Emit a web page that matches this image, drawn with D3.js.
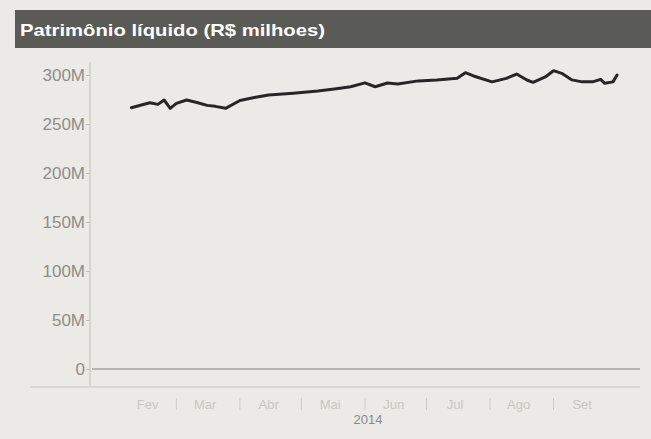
<!DOCTYPE html>
<html><head><meta charset="utf-8">
<script src="https://cdn.jsdelivr.net/npm/d3@7"></script>
<style>
html,body{margin:0;padding:0;background:#ebeae6;}
svg{display:block;}
</style></head>
<body>
<svg id="c" width="651" height="439"></svg>
<script>
const title = "Patrimônio líquido (R$ milhoes)";
const dates = ["2014-02-07","2014-02-16","2014-02-20","2014-02-23","2014-02-26","2014-03-01","2014-03-06","2014-03-11","2014-03-16","2014-03-20","2014-03-25","2014-04-01","2014-04-08","2014-04-15","2014-04-27","2014-05-09","2014-05-18","2014-05-25","2014-06-01","2014-06-06","2014-06-12","2014-06-17","2014-06-27","2014-07-06","2014-07-16","2014-07-20","2014-07-24","2014-08-02","2014-08-09","2014-08-14","2014-08-19","2014-08-22","2014-08-28","2014-09-01","2014-09-05","2014-09-10","2014-09-15","2014-09-20","2014-09-24","2014-09-26","2014-09-30","2014-10-02"];
const values = [266.6,271.7,270,274.5,266,271,274.5,272,269,268,266,274,277,279.6,281.5,283.7,286,288,292,288,291.8,290.8,294,295,296.6,302.4,299,293,296.6,301,294.9,292.5,298,304.4,301.7,295,293,293,295.6,291.5,293,300];
const yTicks = [0,50,100,150,200,250,300];
const monthLabels = ["Fev","Mar","Abr","Mai","Jun","Jul","Ago","Set"];
const yearLabel = "2014";

const svg = d3.select("#c");
const parse = d3.timeParse("%Y-%m-%d");
const data = dates.map((d,i)=>({date:parse(d), v:values[i]}));

const x = d3.scaleTime().domain([new Date(2014,1,1), new Date(2014,9,1)]).range([119,615]);
const y = d3.scaleLinear().domain([0,300]).range([369,75]);

// title bar
svg.append("rect").attr("x",15).attr("y",10).attr("width",636).attr("height",38).attr("fill","#5a5a57");
svg.append("text").attr("x",20).attr("y",36).text(title)
  .attr("fill","#ffffff").attr("font-family","Liberation Sans, Arial, sans-serif")
  .attr("font-weight","bold").attr("font-size",17).attr("textLength",305).attr("lengthAdjust","spacingAndGlyphs");

// bottom x line
svg.append("line").attr("x1",30).attr("x2",640).attr("y1",387).attr("y2",387).attr("stroke","#d2d1cc").attr("stroke-width",1.5);

// zero gridline
svg.append("line").attr("x1",92).attr("x2",640).attr("y1",y(0)).attr("y2",y(0)).attr("stroke","#b4b4af").attr("stroke-width",2);

// y axis
const ya = svg.append("g").attr("transform","translate(90,0)")
  .call(d3.axisLeft(y).tickValues(yTicks).tickSize(4).tickFormat(d=>d===0?"0":d+"M"));
ya.select(".domain").remove();
ya.selectAll(".tick line").attr("stroke","#bdbdb8");
ya.selectAll("text").attr("fill","#8e8e8a").attr("font-family","Liberation Sans, Arial, sans-serif").attr("font-size",17).attr("dx",2);
svg.append("line").attr("x1",90).attr("x2",90).attr("y1",62).attr("y2",386).attr("stroke","#c6c6c1").attr("stroke-width",1.2);

// month labels at mid-month
const months = d3.timeMonth.range(new Date(2014,1,1), new Date(2014,9,1));
const xg = svg.append("g");
xg.selectAll("text.m").data(months).join("text").attr("class","m")
  .attr("x",(d,i)=>x(new Date(2014,d.getMonth(),15)))
  .attr("y",409).attr("text-anchor","middle")
  .attr("fill","#c8c7c2").attr("font-family","Liberation Sans, Arial, sans-serif").attr("font-size",13)
  .text((d,i)=>monthLabels[i]);
xg.selectAll("line.t").data(months.slice(1)).join("line").attr("class","t")
  .attr("x1",d=>x(d)).attr("x2",d=>x(d)).attr("y1",398).attr("y2",410)
  .attr("stroke","#cfcec9").attr("stroke-width",1);
svg.append("text").attr("x",368).attr("y",424).attr("text-anchor","middle")
  .attr("fill","#8a8a86").attr("font-family","Liberation Sans, Arial, sans-serif").attr("font-size",13).text(yearLabel);

// line
const line = d3.line().x(d=>x(d.date)).y(d=>y(d.v)).curve(d3.curveLinear);
svg.append("path").datum(data).attr("d",line).attr("fill","none")
  .attr("stroke","#262626").attr("stroke-width",3).attr("stroke-linejoin","round").attr("stroke-linecap","round");
</script>
</body></html>
